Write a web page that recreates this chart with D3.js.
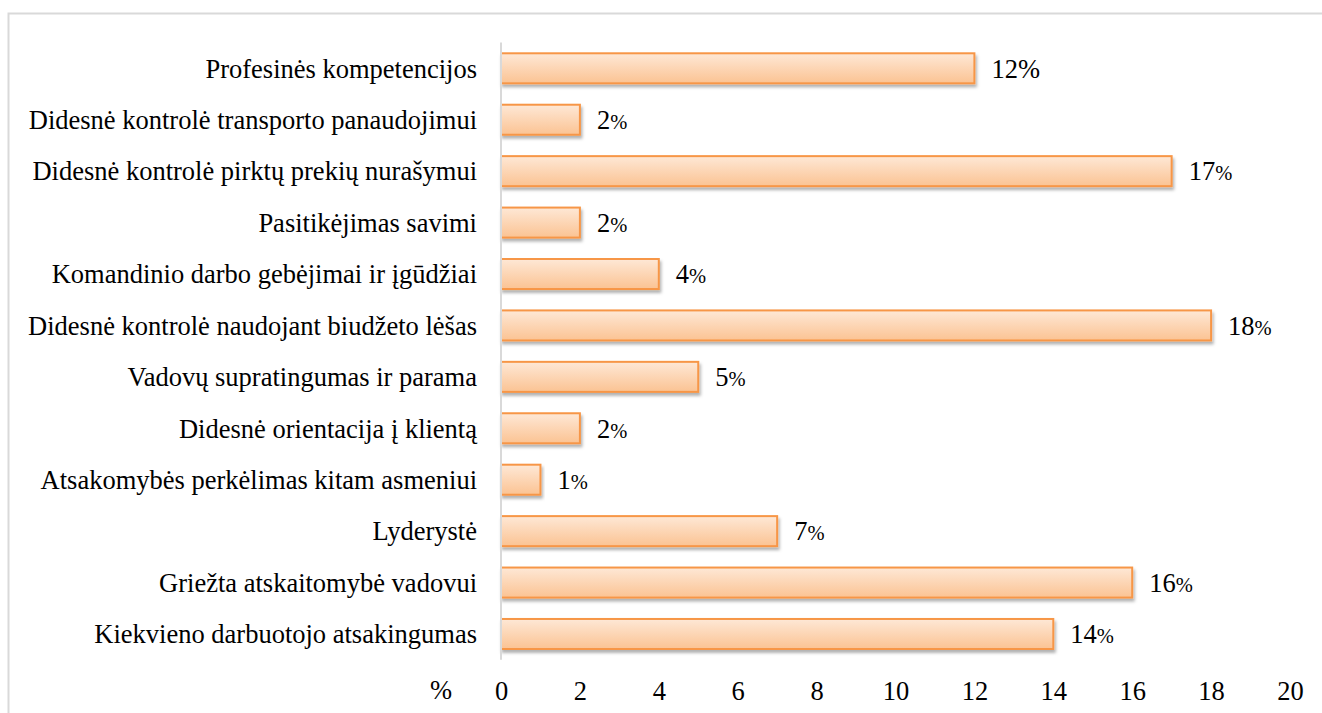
<!DOCTYPE html>
<html>
<head>
<meta charset="utf-8">
<script src="https://d3js.org/d3.v7.min.js"></script>
<style>
html,body{margin:0;padding:0;background:#fff;}
svg{display:block;}
</style>
</head>
<body>
<svg id="chart" width="1322" height="713"></svg>
<script>
const categories = [
  "Profesinės kompetencijos",
  "Didesnė kontrolė transporto panaudojimui",
  "Didesnė kontrolė pirktų prekių nurašymui",
  "Pasitikėjimas savimi",
  "Komandinio darbo gebėjimai ir įgūdžiai",
  "Didesnė kontrolė naudojant biudžeto lėšas",
  "Vadovų supratingumas ir parama",
  "Didesnė orientacija į klientą",
  "Atsakomybės perkėlimas kitam asmeniui",
  "Lyderystė",
  "Griežta atskaitomybė vadovui",
  "Kiekvieno darbuotojo atsakingumas"
];
const values = [12, 2, 17, 2, 4, 18, 5, 2, 1, 7, 16, 14];
const tickValues = [0, 2, 4, 6, 8, 10, 12, 14, 16, 18, 20];
const axisUnit = "%";

const FONT = "Liberation Serif";
const FS = 26.5;
const svg = d3.select("#chart");
const W = 1322, H = 713;

// outer border
svg.append("rect").attr("x", 8.5).attr("y", 13.5).attr("width", W + 20).attr("height", H + 20)
  .attr("fill", "none").attr("stroke", "#d9d9d9").attr("stroke-width", 2);

const defs = svg.append("defs");
const grad = defs.append("linearGradient").attr("id", "barGrad")
  .attr("x1", 0).attr("y1", 0).attr("x2", 0).attr("y2", 1);
grad.append("stop").attr("offset", "0%").attr("stop-color", "#fee8d6");
grad.append("stop").attr("offset", "100%").attr("stop-color", "#fbc393");
const filt = defs.append("filter").attr("id", "shadow")
  .attr("x", "-5%").attr("y", "-30%").attr("width", "115%").attr("height", "180%");
filt.append("feDropShadow").attr("dx", 1.5).attr("dy", 3).attr("stdDeviation", 1.8)
  .attr("flood-color", "#000").attr("flood-opacity", 0.3);

const x = d3.scaleLinear().domain([0, 20]).range([501, 1290]);
const y = d3.scaleBand().domain(categories).range([42.6, 659.7]).paddingInner(0.416).paddingOuter(0.208);

// bars
svg.append("g").selectAll("rect").data(values).join("rect")
  .attr("x", x(0))
  .attr("y", (d, i) => y(categories[i]))
  .attr("width", d => x(d) - x(0))
  .attr("height", y.bandwidth())
  .attr("fill", "url(#barGrad)")
  .attr("stroke", "#f79646")
  .attr("stroke-width", 2)
  .attr("filter", "url(#shadow)");

// vertical axis line
svg.append("line").attr("x1", x(0)).attr("x2", x(0)).attr("y1", 42.6).attr("y2", 659.7)
  .attr("stroke", "#d9d9d9").attr("stroke-width", 2);

// category labels
svg.append("g").selectAll("text").data(categories).join("text")
  .attr("x", 477)
  .attr("y", d => y(d) + y.bandwidth() / 2)
  .attr("dy", "0.35em")
  .attr("text-anchor", "end")
  .style("font-family", FONT)
  .style("font-size", FS + "px")
  .attr("fill", "#000")
  .text(d => d);

// value labels
const vl = svg.append("g").selectAll("text").data(values).join("text")
  .attr("x", d => x(d) + 17)
  .attr("y", (d, i) => y(categories[i]) + y.bandwidth() / 2)
  .attr("dy", "0.35em")
  .style("font-family", FONT)
  .style("font-size", FS + "px")
  .attr("fill", "#000");
vl.append("tspan").text(d => d);
vl.append("tspan").style("font-size", (d, i) => (i === 0 ? FS : 20.5) + "px").text("%");

// x axis tick labels
const xAxis = d3.axisBottom(x).tickValues(tickValues).tickSize(0).tickPadding(0).tickFormat(d3.format("d"));
const gx = svg.append("g").attr("transform", "translate(0,681)").call(xAxis);
gx.select(".domain").remove();
gx.selectAll("text").style("font-size", FS + "px").style("font-family", FONT).attr("fill", "#000");

svg.append("text").attr("x", 441).attr("y", 699).attr("text-anchor", "middle")
  .style("font-family", FONT).style("font-size", FS + "px").attr("fill", "#000").text(axisUnit);
</script>
</body>
</html>
